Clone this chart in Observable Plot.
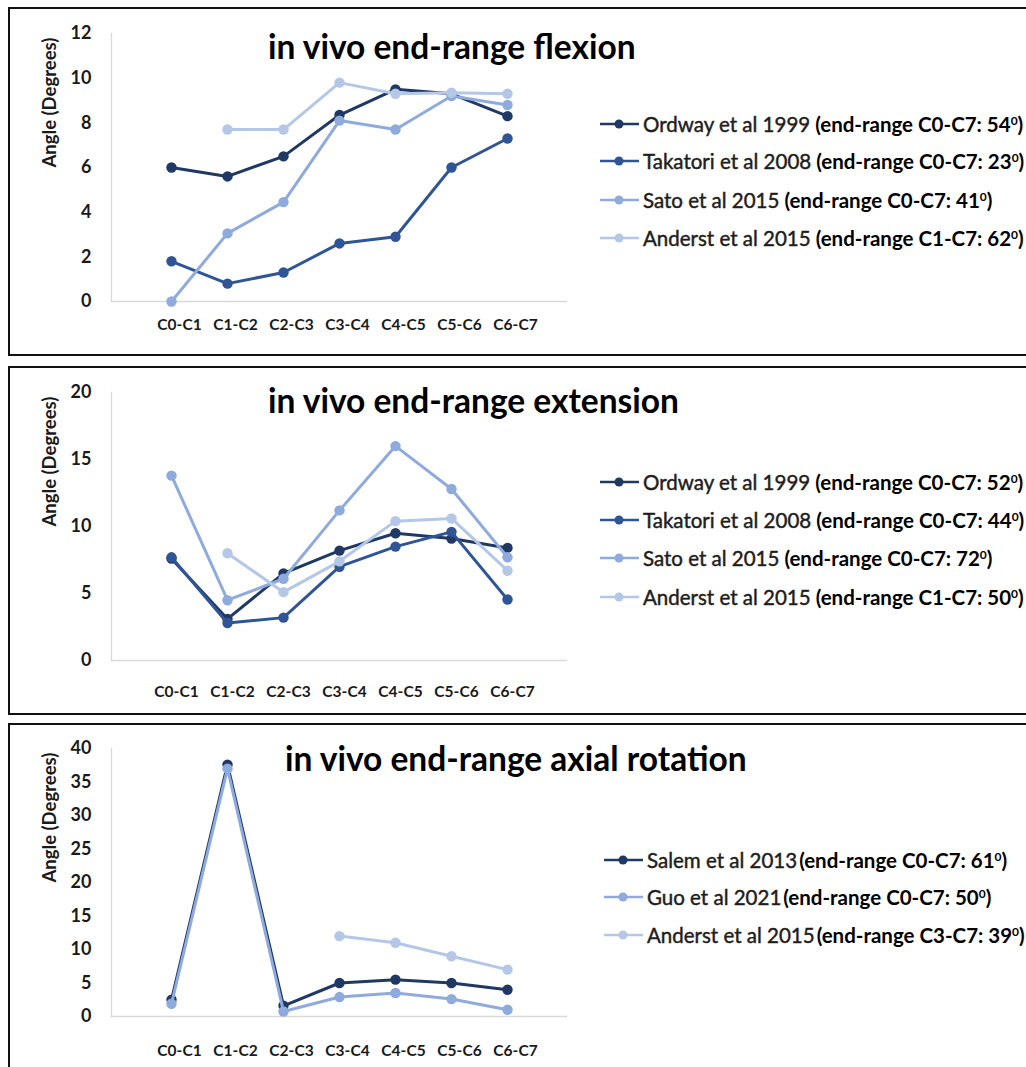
<!DOCTYPE html>
<html><head><meta charset="utf-8">
<script src="https://cdn.jsdelivr.net/npm/d3@7"></script>
<script src="https://cdn.jsdelivr.net/npm/@observablehq/plot@0.6"></script>
<style>
body{margin:0;background:#fff;font-family:Lato,"Open Sans",sans-serif;}
#page{position:relative;width:1026px;height:1067px;overflow:hidden;background:#fff;}
.panel{position:absolute;left:8px;width:1100px;border:2px solid #111;box-sizing:border-box;}
.chart{position:absolute;left:0;}
.title{position:absolute;font-weight:700;font-size:33.5px;color:#000;white-space:nowrap;line-height:1;}
.row{position:absolute;white-space:nowrap;font-size:20.5px;line-height:22px;height:22px;display:flex;align-items:center;}
.row .nm{font-weight:400;color:#1e1e1e;-webkit-text-stroke:0.45px #1e1e1e;}
.row .pr{font-weight:700;color:#000;}
.row sup{font-size:12px;vertical-align:7px;line-height:0;}
</style></head><body><div id="page"></div>
<script>
// ---- data ----
const categories = ["C0-C1","C1-C2","C2-C3","C3-C4","C4-C5","C5-C6","C6-C7"];
const yLabel = "Angle (Degrees)";

const flexTitle = "in vivo end-range flexion";
const flexTicks = [0,2,4,6,8,10,12];
const flexOrdway   = [6.0,5.6,6.5,8.35,9.5,9.3,8.3];
const flexTakatori = [1.8,0.8,1.3,2.6,2.9,6.0,7.3];
const flexSato     = [0,3.05,4.45,8.1,7.7,9.2,8.8];
const flexAnderst  = [null,7.7,7.7,9.8,9.3,9.35,9.3];
const flexNames  = ["Ordway et al 1999","Takatori et al 2008","Sato et al 2015","Anderst et al 2015"];
const flexRanges = ["C0-C7: 54","C0-C7: 23","C0-C7: 41","C1-C7: 62"];

const extTitle = "in vivo end-range extension";
const extTicks = [0,5,10,15,20];
const extOrdway   = [7.6,3.1,6.5,8.2,9.5,9.1,8.4];
const extTakatori = [7.7,2.8,3.2,7.0,8.5,9.6,4.55];
const extSato     = [13.8,4.5,6.1,11.2,16.0,12.8,7.7];
const extAnderst  = [null,8.0,5.1,7.4,10.4,10.6,6.7];
const extNames  = ["Ordway et al 1999","Takatori et al 2008","Sato et al 2015","Anderst et al 2015"];
const extRanges = ["C0-C7: 52","C0-C7: 44","C0-C7: 72","C1-C7: 50"];

const axTitle = "in vivo end-range axial rotation";
const axTicks = [0,5,10,15,20,25,30,35,40];
const axSalem   = [2.5,37.6,1.6,5.0,5.5,5.0,4.0];
const axGuo     = [1.9,37.0,0.75,2.9,3.5,2.6,1.0];
const axAnderst = [null,null,null,12.0,11.0,9.0,7.0];
const axNames  = ["Salem et al 2013","Guo et al 2021","Anderst et al 2015"];
const axRanges = ["C0-C7: 61","C0-C7: 50","C3-C7: 39"];

const colDark = "#1f3864", colMid = "#2f5597", colLight = "#8faadc", colPale = "#b4c7e7";

// ---- layout ----
const page = document.getElementById("page");

function makeChart(series, ticks, xPad, xDx){
  const marks = [
    Plot.frame({anchor:"left", stroke:"#d9d9d9", strokeWidth:1.3}),
    Plot.frame({anchor:"bottom", stroke:"#d9d9d9", strokeWidth:1.3}),
    Plot.axisY(ticks, {tickSize:0, tickPadding:20, label:null, fontSize:18, fontWeight:700}),
    Plot.axisX(categories, {tickSize:0, tickPadding:xPad, label:null, fontSize:15.5, fontWeight:700, dx:xDx}),
    Plot.text([yLabel], {frameAnchor:"left", dx:-61, rotate:-90, fontSize:18.5, fontWeight:700, text:d=>d})
  ];
  for (const s of series){
    const d = [];
    s.values.forEach((v,i)=>{ if(v!=null) d.push({cat:categories[i], value:v}); });
    marks.push(Plot.line(d,{x:"cat", y:"value", stroke:s.color, strokeWidth:3}));
    marks.push(Plot.dot(d,{x:"cat", y:"value", fill:s.color, r:5.2}));
  }
  return Plot.plot({
    width:620, height:370, marginLeft:111, marginRight:54, marginTop:33, marginBottom:69,
    x:{type:"point", domain:categories, padding:1},
    y:{domain:[ticks[0], ticks[ticks.length-1]]},
    style:{fontFamily:"Lato, 'Open Sans', sans-serif", color:"#1a1a1a", background:"transparent", overflow:"visible"},
    marks
  });
}

function addPanel(cfg){
  const box = document.createElement("div");
  box.className = "panel";
  box.style.top = cfg.boxTop + "px";
  box.style.height = cfg.boxH + "px";
  page.appendChild(box);

  const chart = makeChart(cfg.series, cfg.ticks, cfg.xPad, cfg.xDx);
  const wrap = document.createElement("div");
  wrap.className = "chart";
  wrap.style.top = cfg.off + "px";
  wrap.appendChild(chart);
  page.appendChild(wrap);

  const t = document.createElement("div");
  t.className = "title";
  t.textContent = cfg.title;
  t.style.left = cfg.titleX + "px";
  t.style.top = (cfg.off + cfg.titleY - 18) + "px";
  page.appendChild(t);

  cfg.series.forEach((s,i)=>{
    const r = document.createElement("div");
    r.className = "row";
    r.style.left = cfg.legX + "px";
    r.style.top = (cfg.off + cfg.legY[i] - 11) + "px";
    r.innerHTML = `<svg width="42" height="14" style="margin-right:2px;flex:none"><line x1="1" x2="40" y1="7" y2="7" stroke="${s.color}" stroke-width="2.5"/><circle cx="20" cy="7" r="4.5" fill="${s.color}"/></svg>`;
    const nm = document.createElement("span"); nm.className = "nm"; nm.textContent = s.name;
    const pr = document.createElement("span"); pr.className = "pr";
    pr.style.marginLeft = cfg.gap + "px";
    pr.append("(end-range " + s.range);
    const sup = document.createElement("sup"); sup.textContent = "0"; pr.appendChild(sup);
    pr.append(")");
    r.appendChild(nm); r.appendChild(pr);
    page.appendChild(r);
  });
}

const mk = (names, ranges, vals, cols) => names.map((n,i)=>({name:n, range:ranges[i], values:vals[i], color:cols[i]}));

addPanel({off:0, boxTop:7, boxH:349, title:flexTitle, titleX:268, titleY:48, ticks:flexTicks, xPad:17, xDx:8,
  series: mk(flexNames, flexRanges, [flexOrdway,flexTakatori,flexSato,flexAnderst], [colDark,colMid,colLight,colPale]),
  legX:599, legY:[124,161,200,238], gap:5});
addPanel({off:359, boxTop:366, boxH:349, title:extTitle, titleX:268, titleY:43, ticks:extTicks, xPad:25, xDx:5,
  series: mk(extNames, extRanges, [extOrdway,extTakatori,extSato,extAnderst], [colDark,colMid,colLight,colPale]),
  legX:599, legY:[123,161,199,238], gap:5});
addPanel({off:715, boxTop:723, boxH:400, title:axTitle, titleX:285, titleY:45, ticks:axTicks, xPad:28, xDx:8,
  series: mk(axNames, axRanges, [axSalem,axGuo,axAnderst], [colDark,colLight,colPale]),
  legX:603, legY:[145,182,220], gap:2});
</script></body></html>
